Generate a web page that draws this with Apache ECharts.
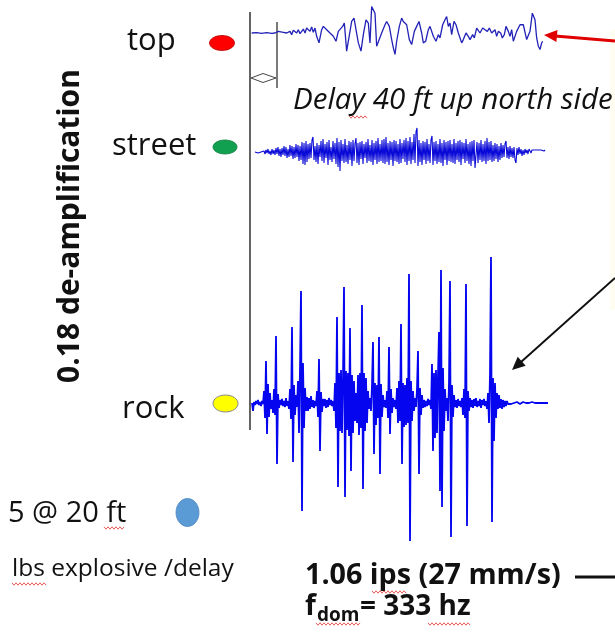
<!DOCTYPE html>
<html>
<head>
<meta charset="utf-8">
<script src="https://cdn.jsdelivr.net/npm/echarts@6/dist/echarts.min.js"></script>
<style>html,body{margin:0;padding:0;background:#fff;}#c{width:615px;height:634px;}</style>
</head>
<body>
<div id="c"></div>
<script>
// ---- data (arbitrary units) ----
const stationLabels = ['top', 'street', 'rock'];
const stationColors = ['#ff0000', '#10a050', '#ffff00'];
// top gauge: sample times and amplitudes
const topTime = [5,20,35,50,65,75,85,90,100,105,110,120,125,130,140,145,150,160,165,170,180,185,190,195,200,207,215,220,230,235,
  240,245,250,258,265,270,278,283,290,295,305,312,318,325,333,340,348,355,360,365,370,375,380,385,395,405,410,418,425,430,
  435,440,448,455,460,465,470,478,485,493,500,507,515,520,527,535,540,545,550,558,565,570,578,585,590,595,600,605,612,618,
  625,630,635,640,648,655,660,668,673,680,685,690,698,705,712,718,725,730,735,740,745,752,757,763,768,775,780,785,790,795,
  800,810,815,820,825,830,835,840,847,852,855,860,865,870,875,878];
const topWave = [0,1,-1,1,-1,0,5,0,2,8,0,5,-5,8,0,10,-2,12,0,15,5,18,2,15,-10,-30,10,20,10,15,
  0,5,-10,-25,5,10,20,30,-55,-50,35,45,40,-30,-55,-5,40,30,-30,80,85,60,-40,-45,0,25,35,20,-20,-45,
  -65,-25,20,45,35,40,25,-20,-35,5,20,35,0,-30,-25,10,20,25,-10,-25,-5,-15,25,40,50,20,30,-5,35,25,
  0,-5,-30,-20,0,-10,-20,-5,-15,15,10,0,15,10,5,15,0,5,10,-10,5,0,-15,-5,20,5,-10,10,-25,-30,
  5,25,30,25,20,-20,-25,5,60,65,40,-15,-40,-50,-30,-25];
// street gauge (sampled 1 px apart)
const streetWave = [
  0,1,0,-1,1,-1,0,2,-1,1,  -2,2,-1,3,-2,1,-3,3,-2,2,  -3,4,-2,5,-4,3,-5,4,-3,6,
  -4,5,-6,3,-5,7,-4,6,-7,5,  -6,8,-5,7,-9,6,-8,10,-12,9,  -13,11,-10,8,-7,9,-6,12,15,-8,
  6,-10,9,-12,7,-5,11,-9,13,-11,  8,-6,10,-13,12,-8,5,-10,11,-7,  9,-12,14,-15,10,-19,12,-9,8,-11,
  13,-10,7,-12,11,-8,10,-14,12,-9,  8,14,-11,9,-13,10,-7,11,-12,8,  -6,10,-11,13,-9,7,-10,12,-13,9,
  -8,11,-12,14,-10,8,-9,12,-11,13,  -12,15,-10,9,-13,11,-8,10,-14,12,  -9,11,-10,8,-12,13,-11,9,-7,12,
  -10,14,-13,11,-9,15,-12,10,-8,18,  -11,20,24,-14,12,-10,9,-13,11,-8,  10,-12,13,-9,8,-11,12,16,-13,10,
  -9,11,-12,8,-10,13,-11,9,-14,12,  -8,10,-13,11,-9,12,-10,8,-11,13,  -12,9,-8,11,-10,12,-13,10,-7,9,
  -11,13,-9,8,-12,10,-14,11,-9,12,  -16,-18,10,-11,9,-8,12,-10,8,-9,  11,-12,14,-9,10,-8,11,-10,7,-9,
  9,-7,8,-10,6,-8,9,-6,7,-5,  8,11,-6,5,-7,6,-5,4,-6,5,  -8,-11,4,-3,5,-2,3,-4,2,-3,
  3,-1,2,-2,3,1,-1,2,1,3,  2,3,1,2,1,0,2,3,4,1,  2];
// rock gauge (sampled 1 px apart)
const rockWave = [
  0,-8,1,-2,2,-1,3,-2,1,-3,2,-1,
  12,-15,42,-31,19,-14,10,-6, 3,
  -10,14,-12,67,-61,9,-5,
  3,-2,4,-3,2,-4,5,-3,2,-6,
  14,-16,76,-59,18,-12,8,-4,
  22,-30,35,112,-108,40,-25,15,-8,
  6,-8,5,-6,7,-4,3,-5,2,-3,
  12,-14,44,-48,11,-9,4,
  -3,4,-5,3,-4,5,-2,3,-3,2,-8,
  20,-25,86,-84,30,-28,33,-30,25,116,-94,32,-27,30,-33,75,-68,28,-30,22,-18,10,
  -20,28,-32,30,-25,98,-86,30,-28,25,-20,12,
  -6,5,-8,
  18,61,-51,20,-22,18,-15,66,-71,19,-14,8,
  -4,3,-5,
  12,-15,56,-31,14,-10,5,
  -4,3,-6,
  15,-20,22,-18,79,-61,20,-24,18,-22,25,-20,129,-138,22,-18,12,-8,
  5,-4,
  14,52,-71,15,-12,8,-5,
  3,-4,2,-3,4,-2,3,-6,
  39,-48,30,-35,33,-30,28,71,-88,133,-104,35,-28,14,
  -8,5,
  -18,20,122,-134,18,-14,8,
  -4,3,-5,4,-3,2,-4,5,
  -12,14,-15,119,-123,12,-8,
  5,-4,3,-5,4,-3,5,-4,2,-3,4,-5,3,-2,4,-3,2,-6,10,
  -20,29,146,-119,25,-38,20,-15,10,
  -6,8,-5,4,-6,3,-4,2,-3,2,
  -1,1,0,-1,1,0,0,-1,0,1, 0,0,-1,0,0,1,0,0,0,-1, 0,0,0,0,1,0,0,0,0,0, 0,1,0,0,0,0,0,-1,0,0, 0];
const yAxisTitle = '0.18 de-amplification';
const delayNote = 'Delay 40 ft up north side';
const chargeNote = '5 @ 20 ft';
const chargeUnit = 'lbs explosive /delay';
const peakNote = '1.06 ips (27 mm/s)';
const freqValue = '= 333 hz';

// ---- chart ----
const chart = echarts.init(document.getElementById('c'), null, {renderer: 'canvas'});
const F = '"Open Sans", Lato, sans-serif';
function idx(a) { return a.map((_, i) => i); }
function arrow(tx, ty, sx, sy, color, w, hl, hw) {
  const dx = sx - tx, dy = sy - ty, L = Math.hypot(dx, dy), ux = dx / L, uy = dy / L;
  const bx = tx + ux * hl, by = ty + uy * hl, px = -uy, py = ux;
  return [
    {type: 'line', shape: {x1: bx - ux * 2, y1: by - uy * 2, x2: sx, y2: sy}, style: {stroke: color, lineWidth: w}},
    {type: 'polygon', shape: {points: [[tx, ty], [bx + px * hw, by + py * hw], [bx - px * hw, by - py * hw]]}, style: {fill: color}}
  ];
}
function squiggle(x1, x2, y) {
  const pts = [];
  for (let x = x1, k = 0; x <= x2; x += 2, k++) pts.push([x, y + (k % 2 ? 1.2 : -1.2)]);
  return {type: 'polyline', shape: {points: pts}, style: {stroke: '#e03030', lineWidth: 0.8, fill: null}};
}
function txt(text, x, y, size, opts) {
  opts = opts || {};
  return {type: 'text', x: x, y: y, rotation: opts.rot || 0,
    style: {text: text, fill: '#111', fontSize: size, fontFamily: F,
      fontWeight: opts.bold ? 'bold' : 'normal', fontStyle: opts.italic ? 'italic' : 'normal',
      textAlign: opts.align || 'left', textVerticalAlign: 'middle'}};
}

const graphic = [
  {type: 'rect', shape: {x: 610, y: 30, width: 5, height: 280}, style: {fill: '#fffdf2'}},
  {type: 'line', shape: {x1: 250, y1: 12, x2: 250, y2: 430}, style: {stroke: '#222', lineWidth: 1.4}},
  {type: 'line', shape: {x1: 277, y1: 22, x2: 277, y2: 88}, style: {stroke: '#222', lineWidth: 1.2}},
  {type: 'polygon', shape: {points: [[251, 78], [263, 73.5], [276, 78], [263, 82.5]]}, style: {stroke: '#444', lineWidth: 1, fill: null}},
  ...arrow(544, 35, 615, 41, '#e00000', 3, 13, 6),
  ...arrow(512, 370, 615, 278, '#111', 2, 13, 6),
  txt(stationLabels[0], 127, 41, 31),
  txt(stationLabels[1], 112, 146, 31),
  txt(stationLabels[2], 122, 409, 31),
  {type: 'ellipse', shape: {cx: 222, cy: 43, rx: 12.5, ry: 7.5}, style: {fill: stationColors[0], stroke: '#b00', lineWidth: 0.8}},
  {type: 'ellipse', shape: {cx: 225, cy: 147, rx: 12, ry: 7}, style: {fill: stationColors[1], stroke: '#0a7a3a', lineWidth: 0.8}},
  {type: 'ellipse', shape: {cx: 225.5, cy: 403.5, rx: 12.5, ry: 8.5}, style: {fill: stationColors[2], stroke: '#888', lineWidth: 1}},
  {type: 'ellipse', shape: {cx: 187.5, cy: 512.5, rx: 11.5, ry: 14}, style: {fill: '#5b9bd5', stroke: '#4a86c0', lineWidth: 0.8}},
  txt(yAxisTitle, 70, 226, 30, {bold: true, rot: Math.PI / 2, align: 'center'}),
  txt(delayNote, 293, 101, 29.5, {italic: true}),
  txt(chargeNote, 8, 514, 29),
  txt(chargeUnit, 12, 569, 24.5),
  txt(peakNote, 305, 576, 28.7, {bold: true}),
  {type: 'rect', shape: {x: 575, y: 575.5, width: 40, height: 3}, style: {fill: '#111'}},
  txt('f', 305, 607, 28, {bold: true}),
  txt('dom', 317, 616, 19, {bold: true}),
  txt(freqValue, 360, 607, 28, {bold: true}),
  squiggle(349, 368, 117),
  squiggle(104, 125, 528),
  squiggle(12, 46, 584),
  squiggle(372, 406, 592),
  squiggle(316, 360, 624),
  squiggle(428, 470, 624)
];

chart.setOption({
  backgroundColor: '#fff',
  animation: false,
  grid: [
    {left: 250, width: 300, top: 0, height: 66},
    {left: 255, width: 290, top: 122, height: 60},
    {left: 252, width: 296, top: 253, height: 300}
  ],
  xAxis: [
    {type: 'value', gridIndex: 0, min: 0, max: 900, show: false},
    {type: 'category', gridIndex: 1, data: idx(streetWave), boundaryGap: false, show: false},
    {type: 'category', gridIndex: 2, data: idx(rockWave), boundaryGap: false, show: false}
  ],
  yAxis: [
    {type: 'value', gridIndex: 0, min: -100, max: 100, show: false},
    {type: 'value', gridIndex: 1, min: -30, max: 30, show: false},
    {type: 'value', gridIndex: 2, min: -150, max: 150, show: false}
  ],
  series: [
    {type: 'line', xAxisIndex: 0, yAxisIndex: 0, data: topTime.map((t, i) => [t, topWave[i]]),
      symbol: 'none', lineStyle: {color: '#2222b8', width: 1.3}, clip: false, silent: true},
    {type: 'line', xAxisIndex: 1, yAxisIndex: 1, data: streetWave,
      symbol: 'none', lineStyle: {color: '#0a0ad8', width: 1.1}, clip: false, silent: true},
    {type: 'line', xAxisIndex: 2, yAxisIndex: 2, data: rockWave,
      symbol: 'none', lineStyle: {color: '#0505f0', width: 1.8}, clip: false, silent: true}
  ],
  graphic: graphic
});
</script>
</body>
</html>
